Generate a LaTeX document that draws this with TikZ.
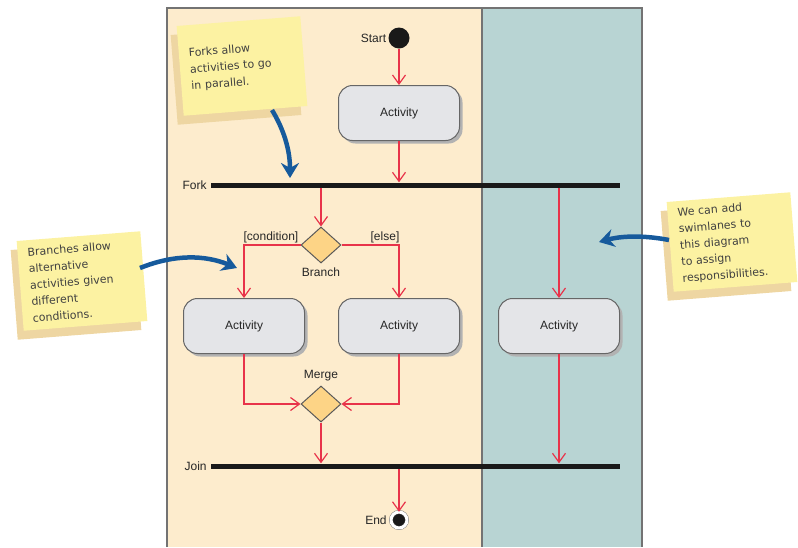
\documentclass[tikz,border=0pt]{standalone}
\usepackage{fontspec}
\setmainfont{Liberation Sans}
\newfontfamily\notefont{DejaVu Sans}
\usepackage{tikz}
\usetikzlibrary{arrows.meta,shapes.geometric,shadows,positioning}
\definecolor{lanepeach}{HTML}{FDECCD}
\definecolor{laneteal}{HTML}{B8D4D3}
\definecolor{actfill}{HTML}{E4E5E8}
\definecolor{diafill}{HTML}{FDD486}
\definecolor{flowred}{HTML}{E8334A}
\definecolor{noteyellow}{HTML}{FCF2A2}
\definecolor{notetan}{HTML}{EED6A2}
\definecolor{hintblue}{HTML}{165A9C}

\begin{document}
\begin{tikzpicture}[x=1pt,y=-1pt,
    every node/.style={font=\fontsize{12}{14}\selectfont, text=black!85},
    activity/.style={rectangle, rounded corners=14pt, draw=black!60, line width=1pt,
      fill=actfill, minimum width=121pt, minimum height=55pt,
      drop shadow={shadow xshift=3pt, shadow yshift=-3pt, fill=black!30, opacity=1}},
    branchpt/.style={diamond, draw=black!65, line width=1pt, fill=diafill,
      minimum width=40pt, minimum height=36pt, inner sep=0pt},
    bar/.style={rectangle, fill=black!90, minimum width=409pt, minimum height=5pt, inner sep=0pt},
    flow/.style={draw=flowred, line width=1.2pt,
      -{Straight Barb[length=9pt,width=13pt,line width=1.2pt]}},
    note/.style={fill=noteyellow, minimum width=124pt, minimum height=90pt, text width=104pt,
      align=left, inner sep=0pt, font=\notefont\fontsize{11}{16.5}\selectfont, text=black!75,
      drop shadow={fill=notetan, shadow xshift=-6pt, shadow yshift=-9pt, opacity=1}},
    hint/.style={draw=hintblue, line width=4.5pt, -{Stealth[length=15pt,width=18pt]}}]
  \useasboundingbox (0,0) rectangle (798,547);

  % swimlanes
  \fill[lanepeach] (167,8) rectangle (482,547);
  \fill[laneteal] (482,8) rectangle (642,547);
  \draw[black!55, line width=1.5pt] (167,547) -- (167,8) -- (642,8) -- (642,547);
  \draw[black!55, line width=1.5pt] (482,8) -- (482,547);

  \node[circle, fill=black!90, minimum size=21pt, inner sep=0pt] (start) at (399,38) {};
  \node[anchor=east, inner sep=2pt] (startlbl) at (start.west) {Start};
  \node[activity] (act1) at (399,113) {Activity};

  \node[bar] (fork) at (415.5,185) {};
  \node[anchor=east, inner sep=4pt] (forklbl) at (fork.west) {Fork};

  \node[branchpt] (branch) at (321,245) {};
  \node[anchor=south east, inner sep=2pt] (condlbl) at (branch.west) {[condition]};
  \node[anchor=south, inner sep=2pt] (elselbl) at (385,245) {[else]};
  \node[below=1pt of branch] (branchlbl) {Branch};

  \node[activity] (actL) at (244,326) {Activity};
  \node[activity] (actM) at (399,326) {Activity};
  \node[activity] (actR) at (559,326) {Activity};

  \node[branchpt] (merge) at (321,404) {};
  \node[above=1pt of merge] (mergelbl) {Merge};

  \node[bar] (join) at (415.5,466) {};
  \node[anchor=east, inner sep=4pt] (joinlbl) at (join.west) {Join};

  \node[circle, fill=black!90, draw=black!60, double=white, double distance=3pt,
    minimum size=16pt, inner sep=0pt] (end) at (399,520) {};
  \node[anchor=east, inner sep=4pt] (endlbl) at (end.west) {End};

  \draw[flow] (start) -- (act1);
  \draw[flow] (act1) -- (act1 |- fork.north);
  \draw[flow] (fork.south -| branch) -- (branch);
  \draw[flow] (fork.south -| actR) -- (actR);
  \draw[flow] (branch.west) -| (actL);
  \draw[flow] (branch.east) -| (actM);
  \draw[flow] (actL) |- (merge.west);
  \draw[flow] (actM) |- (merge.east);
  \draw[flow] (merge) -- (merge |- join.north);
  \draw[flow] (actR) -- (actR |- join.north);
  \draw[flow] (join.south -| end) -- (end);

  % sticky notes
  \node[note, rotate=4.5] (note1) at (242,66) {Forks allow\\activities to go\\in parallel.};
  \node[note, rotate=4.5] (note2) at (82,281) {Branches allow\\alternative\\activities given\\different\\conditions.};
  \node[note, rotate=4.5] (note3) at (732,242) {We can add\\swimlanes to\\this diagram\\to assign\\responsibilities.};

  \coordinate (hint1a) at (272,110);
  \coordinate (hint1b) at (290,178);
  \coordinate (hint2a) at (140,268);
  \coordinate (hint2b) at (237,268);
  \coordinate (hint3a) at (669,240);
  \coordinate (hint3b) at (599,242);
  \draw[hint] (hint1a) .. controls (284,130) and (290,150) .. (hint1b);
  \draw[hint] (hint2a) .. controls (175,254) and (205,255) .. (hint2b);
  \draw[hint] (hint3a) .. controls (648,236) and (625,235) .. (hint3b);
\end{tikzpicture}
\end{document}
